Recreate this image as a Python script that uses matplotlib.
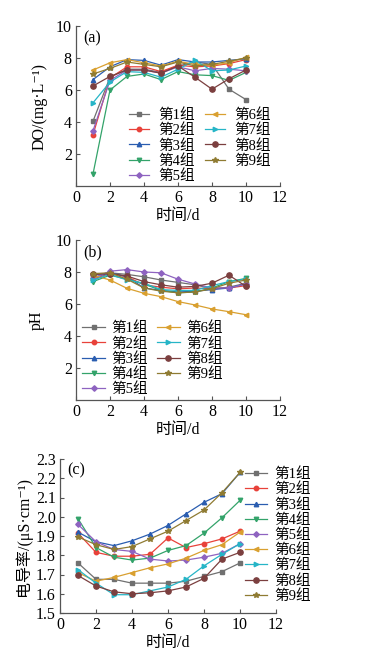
import numpy as np
import matplotlib
matplotlib.use('Agg')
import matplotlib.pyplot as plt

plt.rcParams['font.family'] = ['Liberation Serif', 'Noto Sans CJK SC', 'DejaVu Serif']

days = np.arange(1, 11)
groups = ['第1组', '第2组', '第3组', '第4组', '第5组', '第6组', '第7组', '第8组', '第9组']
colors = ['#707070', '#e8423a', '#2a5db0', '#33a36a', '#8e63c0',
          '#d9a030', '#26b5c7', '#7b3f3f', '#8f7b32']
markers = ['s', 'o', '^', 'v', 'D', '<', '>', 'o', '*']
msizes = [2.8, 3.2, 3.2, 3.2, 2.8, 3.2, 3.2, 3.8, 4.2]

# (a) DO, mg/L
do_vals = [
    [4.05, 6.80, 7.30, 7.30, 7.10, 7.50, 7.75, 7.60, 6.05, 5.40],
    [3.20, 6.75, 7.45, 7.45, 7.15, 7.55, 7.45, 7.50, 7.65, 7.90],
    [6.65, 7.45, 7.90, 7.85, 7.55, 7.90, 7.75, 7.75, 7.85, 7.95],
    [0.75, 6.00, 6.85, 7.00, 6.65, 7.15, 6.95, 6.90, 6.60, 7.10],
    [3.45, 6.60, 7.25, 7.25, 7.05, 7.45, 7.20, 7.35, 7.30, 7.20],
    [7.25, 7.70, 7.90, 7.70, 7.50, 7.80, 7.60, 7.55, 7.70, 8.05],
    [5.20, 6.50, 7.15, 7.10, 6.80, 7.30, 7.85, 7.20, 7.25, 7.50],
    [6.25, 6.85, 7.25, 7.25, 7.05, 7.50, 6.80, 6.05, 6.70, 7.25],
    [7.00, 7.35, 7.75, 7.60, 7.45, 7.75, 7.50, 7.60, 7.80, 8.00],
]

# (b) pH
ph_vals = [
    [7.80, 7.95, 7.85, 7.70, 7.50, 7.35, 7.20, 6.95, 7.05, 7.30],
    [7.55, 7.90, 7.70, 7.20, 7.05, 6.95, 7.00, 6.95, 7.00, 7.15],
    [7.65, 7.95, 7.70, 7.00, 6.85, 6.75, 6.80, 6.90, 7.00, 7.25],
    [7.40, 7.80, 7.55, 7.25, 6.85, 6.70, 6.75, 7.00, 7.40, 7.60],
    [7.60, 8.05, 8.15, 8.00, 7.95, 7.55, 7.25, 7.00, 7.00, 7.25],
    [7.80, 7.50, 6.98, 6.67, 6.46, 6.15, 5.94, 5.69, 5.52, 5.33],
    [7.50, 7.85, 7.50, 7.30, 6.90, 6.85, 6.85, 7.15, 7.40, 7.55],
    [7.85, 7.90, 7.75, 7.40, 7.20, 7.05, 7.10, 7.30, 7.80, 7.10],
    [7.90, 7.95, 7.55, 7.00, 6.80, 6.70, 6.75, 6.95, 7.30, 7.50],
]

# (c) conductivity, uS/cm
ec_vals = [
    [1.760, 1.675, 1.675, 1.655, 1.655, 1.655, 1.665, 1.690, 1.715, 1.760],
    [1.915, 1.815, 1.795, 1.795, 1.805, 1.890, 1.840, 1.860, 1.885, 1.925],
    [1.920, 1.870, 1.850, 1.875, 1.910, 1.955, 2.015, 2.075, 2.120, 2.230],
    [1.990, 1.840, 1.790, 1.775, 1.785, 1.825, 1.850, 1.915, 1.995, 2.085],
    [1.960, 1.870, 1.830, 1.820, 1.780, 1.770, 1.775, 1.790, 1.810, 1.860],
    [1.710, 1.665, 1.685, 1.710, 1.735, 1.755, 1.785, 1.825, 1.855, 1.920],
    [1.725, 1.655, 1.595, 1.595, 1.615, 1.635, 1.675, 1.745, 1.805, 1.860],
    [1.695, 1.640, 1.610, 1.600, 1.605, 1.615, 1.635, 1.680, 1.780, 1.815],
    [1.895, 1.855, 1.830, 1.845, 1.885, 1.925, 1.980, 2.035, 2.125, 2.230],
]

W, H = 366, 658
fig = plt.figure(figsize=(W / 100, H / 100), dpi=100)


def px_axes(x0, y0, x1, y1):
    # pixel box (left, top, right, bottom) -> figure axes
    return fig.add_axes([x0 / W, 1 - y1 / H, (x1 - x0) / W, (y1 - y0) / H])


def style(ax):
    for s in ['top', 'right']:
        ax.spines[s].set_visible(False)
    for s in ['left', 'bottom']:
        ax.spines[s].set_color('#555555')
        ax.spines[s].set_linewidth(0.9)
    ax.tick_params(direction='in', length=3, width=0.8, labelsize=11.5,
                   color='#555555', pad=3)
    ax.set_xlim(0, 12)
    ax.set_xticks(range(0, 13, 2))
    ax.set_xlabel('时间/d', fontsize=11.5, labelpad=1)


def draw(ax, vals):
    for i, v in enumerate(vals):
        ax.plot(days, v, color=colors[i], marker=markers[i], ms=msizes[i],
                lw=0.9, label=groups[i], clip_on=False)


leg_kw = dict(frameon=False, fontsize=10.5, borderpad=0, borderaxespad=0)

ax1 = px_axes(76, 26, 280, 186)
draw(ax1, do_vals)
style(ax1)
ax1.set_ylim(0, 10)
ax1.set_yticks([2, 4, 6, 8, 10])
ax1.set_ylabel('DO/(mg·L⁻¹)', fontsize=11.5, labelpad=6)
ax1.text(0.035, 0.9, '(a)', transform=ax1.transAxes, fontsize=11.5)
ax1.legend(ncol=2, loc='upper left', bbox_to_anchor=(0.26, 0.485), labelspacing=0.1,
           handlelength=1.4, handletextpad=0.6, columnspacing=0.7, **leg_kw)

ax2 = px_axes(76, 240, 280, 400)
draw(ax2, ph_vals)
style(ax2)
ax2.set_ylim(0, 10)
ax2.set_yticks([2, 4, 6, 8, 10])
ax2.set_ylabel('pH', fontsize=11.5, labelpad=8)
ax2.text(0.035, 0.9, '(b)', transform=ax2.transAxes, fontsize=11.5)
ax2.legend(ncol=2, loc='upper left', bbox_to_anchor=(0.03, 0.49), labelspacing=0.1,
           handlelength=1.6, handletextpad=0.4, columnspacing=0.6, **leg_kw)

ax3 = px_axes(60, 459, 276, 613)
draw(ax3, ec_vals)
style(ax3)
ax3.set_ylim(1.5, 2.3)
ax3.set_yticks(np.arange(1.5, 2.31, 0.1))
ax3.yaxis.set_major_formatter(plt.FormatStrFormatter('%.1f'))
ax3.set_ylabel('电导率/(μS·cm⁻¹)', fontsize=11.5, labelpad=3)
ax3.text(0.035, 0.9, '(c)', transform=ax3.transAxes, fontsize=11.5)
ax3.legend(ncol=1, loc='upper left', bbox_to_anchor=(0.855, 0.945), labelspacing=0.1,
           handlelength=1.5, handletextpad=0.5, **leg_kw)

fig.savefig('out.png', dpi=100)
